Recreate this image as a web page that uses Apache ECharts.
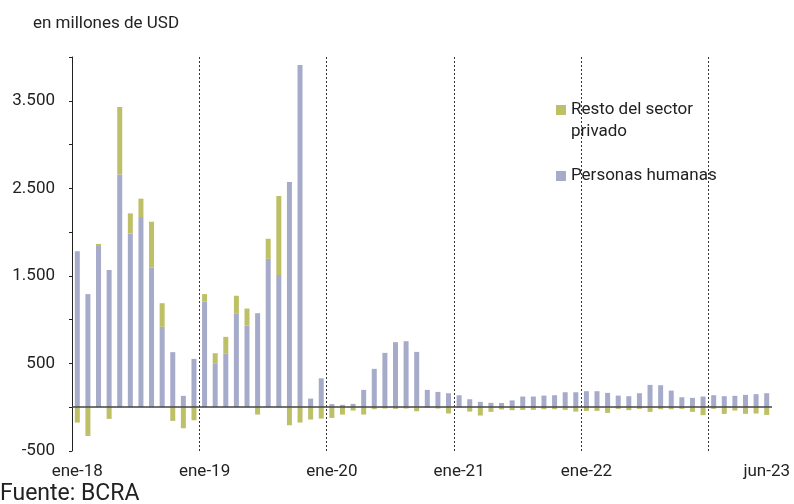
<!DOCTYPE html>
<html>
<head>
<meta charset="utf-8">
<script src="https://cdn.jsdelivr.net/npm/echarts@6/dist/echarts.min.js"></script>
<style>
html,body{margin:0;padding:0;background:#fff;}
#chart{width:794px;height:504px;}
</style>
</head>
<body>
<div id="chart"></div>
<script>
var months = ['ene','feb','mar','abr','may','jun','jul','ago','sep','oct','nov','dic'];
var years = ['18','19','20','21','22','23'];
var categories = [];
years.forEach(function(y){ months.forEach(function(m){ categories.push(m + '-' + y); }); });
categories = categories.slice(0, 66); // ene-18 .. jun-23

var personasHumanas = [
  1780, 1292, 1840, 1566, 2659, 1985, 2172, 1593, 918, 629, 130, 552,
  1208, 495, 610, 1067, 933, 1074, 1695, 1509, 2572, 3909, 99, 330,
  36, 27, 38, 198, 438, 621, 743, 754, 632, 198, 175, 160,
  137, 91, 61, 50, 48, 78, 122, 122, 133, 137, 171, 171,
  183, 183, 164, 133, 126, 160, 255, 251, 190, 114, 107, 122,
  137, 126, 130, 141, 149, 160
];
var restoSectorPrivado = [
  -175, -328, 25, -133, 770, 229, 210, 526, 270, -156, -240, -149,
  84, 122, 194, 206, 194, -84, 229, 903, -206, -175, -141, -130,
  -122, -84, -38, -84, -23, -15, -19, -15, -46, -4, -15, -72,
  -4, -50, -95, -53, -25, -34, -30, -30, -23, -23, -30, -50,
  -42, -42, -65, -19, -34, -19, -53, -23, -23, -19, -53, -91,
  -19, -76, -38, -76, -72, -88
];
var shownXLabels = ['ene-18','ene-19','ene-20','ene-21','ene-22','jun-23'];
// year boundaries (in months from ene-18) where dotted separators are drawn
var yearBoundaries = [12, 24, 36, 48, 60];

var FONT = 'Roboto';
var FS = 17;
var chart = echarts.init(document.getElementById('chart'), null, {renderer:'canvas'});
chart.setOption({
  backgroundColor: '#ffffff',
  animation: false,
  title: [
    {text: 'en millones de USD', left: 28, top: 10,
     textStyle: {fontFamily: FONT, fontSize: FS, fontWeight: 'normal', color: '#222'}},
    {text: 'Fuente: BCRA', left: -5, top: 478,
     textStyle: {fontFamily: FONT, fontSize: 23, fontWeight: 'normal', color: '#222'}}
  ],
  grid: {left: 72, right: 22, top: 57, bottom: 53, containLabel: false},
  legend: {
    orient: 'vertical', left: 551, top: 94,
    itemWidth: 10, itemHeight: 32, itemGap: 17,
    selectedMode: false,
    textStyle: {fontFamily: FONT, fontSize: FS, color: '#222', lineHeight: 22},
    formatter: function(n){ return n === 'Resto del sector privado' ? 'Resto del sector\nprivado' : n; },
    data: [
      {name: 'Resto del sector privado', icon: 'path://M0,0h10v10h-10z M0,32h0.1v0.1h-0.1z'},
      {name: 'Personas humanas', icon: 'path://M0,11h10v10h-10z M0,0h0.1v0.1h-0.1z M0,32h0.1v0.1h-0.1z'}
    ]
  },
  xAxis: [
    {
      type: 'category',
      data: categories,
      boundaryGap: true,
      axisLine: {show: false},
      axisTick: {show: false},
      splitLine: {show: false},
      axisLabel: {
        interval: 0,
        margin: 12,
        fontFamily: FONT, fontSize: FS, color: '#222',
        formatter: function(v){ return shownXLabels.indexOf(v) >= 0 ? v : ''; }
      }
    },
    {
      type: 'value', min: 0, max: categories.length, show: false,
      axisLine: {show: false}, axisTick: {show: false}, axisLabel: {show: false}, splitLine: {show: false}
    }
  ],
  yAxis: {
    type: 'value',
    min: -500, max: 4000, interval: 500,
    axisLine: {show: true, lineStyle: {color: '#222', width: 1}},
    axisTick: {show: true, length: 3, lineStyle: {color: '#222'}},
    splitLine: {show: false},
    axisLabel: {
      margin: 17,
      fontFamily: FONT, fontSize: FS, color: '#222',
      formatter: function(v){
        if (Math.abs(v / 500) % 2 !== 1) return '';
        var s = Math.abs(v).toString().replace(/\B(?=(\d{3})+(?!\d))/g, '.');
        return (v < 0 ? '-' : '') + s;
      }
    }
  },
  series: [
    {
      name: 'Personas humanas', type: 'bar', stack: 'total',
      data: personasHumanas, barWidth: 5,
      itemStyle: {color: '#a6abc9'},
      markLine: {
        silent: true, symbol: 'none', label: {show: false},
        lineStyle: {color: '#444', width: 1.5, type: 'solid'},
        data: [{yAxis: 0}]
      }
    },
    {
      name: 'Resto del sector privado', type: 'bar', stack: 'total',
      data: restoSectorPrivado, barWidth: 5,
      itemStyle: {color: '#bdc066'}
    },
    {
      name: 'separadores', type: 'scatter', xAxisIndex: 1, yAxisIndex: 0,
      data: [[0, 0]], symbolSize: 0, silent: true, legendHoverLink: false,
      markLine: {
        silent: true, symbol: 'none', label: {show: false},
        lineStyle: {color: '#333', width: 1, type: [2, 2]},
        data: yearBoundaries.map(function(b){ return {xAxis: b}; })
      }
    }
  ]
});
</script>
</body>
</html>
